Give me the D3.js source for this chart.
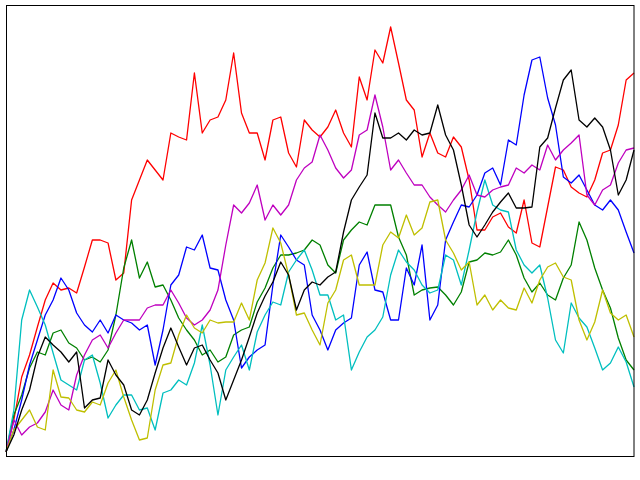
<!DOCTYPE html>
<html>
<head>
<meta charset="utf-8">
<script src="https://cdn.jsdelivr.net/npm/d3@7"></script>
<style>
  body { margin: 0; background: #fff; }
</style>
</head>
<body>
<svg id="chart" width="640" height="480"></svg>
<script>
// random walk values, every 12.5 steps (81 samples)
var red = [0, 3.2, 7.5, 9.7, 12.5, 15.2, 16.9, 16.2, 16.4, 15.9, 18.5, 21.2, 21.2, 20.9, 17.2, 17.9, 25.2, 27.2, 29.2, 28.2, 27.2, 31.9, 31.5, 31.2, 37.9, 31.9, 33.2, 33.5, 35.2, 39.9, 33.9, 31.9, 31.9, 29.2, 33.2, 33.5, 29.9, 28.5, 33.2, 32.2, 31.5, 32.5, 34.2, 31.9, 30.5, 37.5, 35.2, 40.2, 38.9, 42.5, 38.9, 35.2, 34.2, 29.5, 31.9, 29.9, 29.5, 31.5, 30.5, 27.2, 22.2, 22.2, 23.5, 23.9, 22.5, 21.9, 25.2, 20.9, 20.5, 24.5, 28.5, 28.2, 26.5, 25.9, 25.5, 27.2, 29.9, 30.2, 32.7, 37.2, 37.9];
var green = [0, 3.7, 5.7, 8.4, 10.0, 9.7, 11.9, 12.2, 10.9, 10.4, 9.2, 9.5, 9.0, 10.2, 13.7, 18.4, 21.2, 17.4, 19.0, 16.5, 16.7, 15.2, 13.4, 12.2, 11.2, 9.7, 10.2, 9.0, 9.5, 11.7, 12.2, 12.5, 15.0, 16.4, 18.4, 19.7, 19.7, 19.9, 20.2, 21.2, 20.7, 18.7, 17.9, 21.2, 22.2, 23.0, 22.7, 24.7, 24.7, 24.7, 21.5, 19.7, 15.7, 16.2, 16.4, 16.5, 15.7, 14.7, 16.0, 19.0, 19.2, 19.9, 19.7, 20.0, 21.2, 19.7, 17.4, 16.0, 16.9, 15.7, 15.2, 17.4, 18.7, 23.0, 21.2, 18.4, 16.2, 14.4, 11.4, 9.2, 8.2];
var blue = [0, 2.2, 5.2, 8.7, 11.2, 13.7, 15.2, 17.4, 16.2, 13.9, 12.7, 12.0, 13.2, 11.9, 13.7, 13.2, 12.9, 12.2, 12.7, 8.7, 12.2, 16.7, 17.7, 20.5, 20.2, 21.7, 18.4, 18.2, 15.2, 13.2, 8.4, 9.5, 10.2, 10.7, 16.7, 21.7, 20.5, 19.2, 18.7, 13.7, 12.2, 10.2, 12.2, 12.9, 13.4, 18.7, 20.0, 16.2, 16.0, 13.2, 13.2, 18.4, 16.7, 20.7, 13.2, 14.7, 21.2, 23.0, 24.7, 24.5, 25.7, 27.9, 28.4, 26.7, 31.2, 30.7, 35.7, 39.2, 39.5, 35.4, 32.7, 27.5, 26.9, 27.7, 26.2, 24.7, 24.2, 25.2, 24.2, 22.0, 19.9];
var cyan = [0, 4.2, 13.2, 16.2, 14.5, 12.7, 9.9, 7.2, 6.7, 6.2, 9.2, 9.7, 6.9, 3.4, 4.7, 5.7, 5.7, 4.2, 4.4, 2.2, 5.9, 6.2, 7.2, 6.7, 8.9, 12.7, 8.7, 3.7, 8.2, 9.5, 10.7, 8.2, 12.0, 13.7, 15.0, 14.7, 18.0, 19.2, 20.2, 18.2, 15.7, 15.7, 13.2, 13.7, 8.2, 10.0, 11.5, 12.2, 13.5, 17.7, 20.2, 19.0, 18.2, 16.7, 15.9, 16.2, 19.7, 19.2, 16.7, 20.2, 24.0, 27.2, 24.7, 24.2, 24.0, 20.2, 18.7, 17.9, 18.7, 15.4, 11.2, 9.9, 14.9, 13.4, 12.5, 10.4, 8.2, 8.9, 10.5, 9.0, 6.5];
var magenta = [0, 3.2, 1.7, 2.5, 2.9, 4.0, 6.2, 4.7, 4.2, 7.7, 9.7, 11.2, 11.7, 10.4, 11.9, 13.2, 13.2, 13.2, 14.4, 14.7, 14.7, 16.2, 14.9, 13.4, 12.7, 13.2, 14.2, 16.2, 20.7, 24.7, 23.9, 24.9, 26.7, 23.2, 24.7, 23.7, 24.7, 27.2, 28.4, 29.0, 31.7, 30.2, 28.4, 27.4, 28.2, 31.7, 32.2, 35.7, 32.5, 28.2, 29.2, 27.9, 26.7, 26.7, 25.5, 24.7, 24.0, 25.2, 26.2, 27.7, 25.7, 25.5, 26.2, 26.5, 26.7, 28.4, 27.9, 28.7, 28.2, 30.7, 29.2, 30.2, 30.9, 31.7, 25.7, 24.7, 26.2, 26.7, 28.9, 30.2, 30.4];
var yellow = [0, 2.2, 3.2, 4.2, 2.5, 2.2, 8.2, 5.5, 5.4, 4.2, 4.0, 5.0, 4.7, 6.9, 8.2, 5.5, 3.2, 1.2, 1.4, 6.2, 8.7, 8.9, 11.7, 13.7, 12.4, 11.9, 13.2, 12.9, 13.0, 13.0, 14.9, 13.2, 17.2, 18.9, 22.4, 20.9, 17.7, 13.7, 13.9, 12.2, 10.7, 14.9, 16.2, 19.2, 19.7, 16.7, 16.7, 16.7, 20.7, 22.0, 21.4, 23.7, 21.7, 22.4, 25.0, 25.2, 21.2, 19.9, 18.2, 19.0, 14.7, 15.7, 14.2, 15.2, 14.4, 14.2, 16.4, 14.9, 17.2, 18.5, 18.9, 17.5, 17.2, 13.2, 11.2, 13.0, 16.2, 13.9, 13.2, 13.7, 11.5];
var black = [0, 1.7, 4.2, 6.2, 9.5, 11.5, 10.7, 10.0, 9.0, 10.0, 4.4, 5.2, 5.4, 9.2, 7.7, 6.7, 4.2, 3.7, 5.2, 7.9, 10.4, 12.4, 10.5, 8.7, 10.4, 10.7, 9.2, 7.9, 5.2, 7.2, 9.2, 11.5, 13.9, 15.6, 17.0, 19.0, 17.7, 14.2, 16.2, 17.0, 16.7, 17.5, 18.0, 22.0, 25.2, 26.5, 27.7, 33.9, 31.4, 31.4, 31.9, 31.2, 32.2, 31.7, 31.9, 34.7, 31.7, 30.2, 26.7, 22.7, 21.5, 22.7, 24.0, 25.0, 25.9, 24.4, 24.4, 24.5, 30.5, 31.4, 34.4, 37.2, 38.2, 33.2, 32.5, 33.4, 32.5, 30.2, 25.7, 27.2, 30.2];

var series = [red, green, blue, cyan, magenta, yellow, black];
var colors = ["#ff0000", "#008000", "#0000ff", "#00bfbf", "#bf00bf", "#bfbf00", "#000000"];

// step index of each sample
var steps = d3.range(0, 1000 + 1, 12.5);

function draw() {
  // plot box
  var left = 6, right = 634, plotTop = 5, bottom = 456;

  var svg = d3.select("#chart");

  var x = d3.scaleLinear().domain([0, 1000]).range([left, right]);
  var y = d3.scaleLinear().domain([-0.4, 44.7]).range([bottom, plotTop]);

  var line = d3.line()
      .x(function(d, i) { return x(steps[i]); })
      .y(function(d) { return y(d); });

  var g = svg.append("g");

  series.forEach(function(s, k) {
    g.append("path")
      .attr("d", line(s))
      .attr("fill", "none")
      .attr("stroke", colors[k])
      .attr("stroke-width", 1.3)
      .attr("stroke-linejoin", "round");
  });

  // frame around the axes
  svg.append("rect")
    .attr("x", left + 0.5)
    .attr("y", plotTop + 0.5)
    .attr("width", right - left - 0.5)
    .attr("height", bottom - plotTop)
    .attr("fill", "none")
    .attr("stroke", "#000")
    .attr("stroke-width", 1);
}

draw();
</script>
</body>
</html>
